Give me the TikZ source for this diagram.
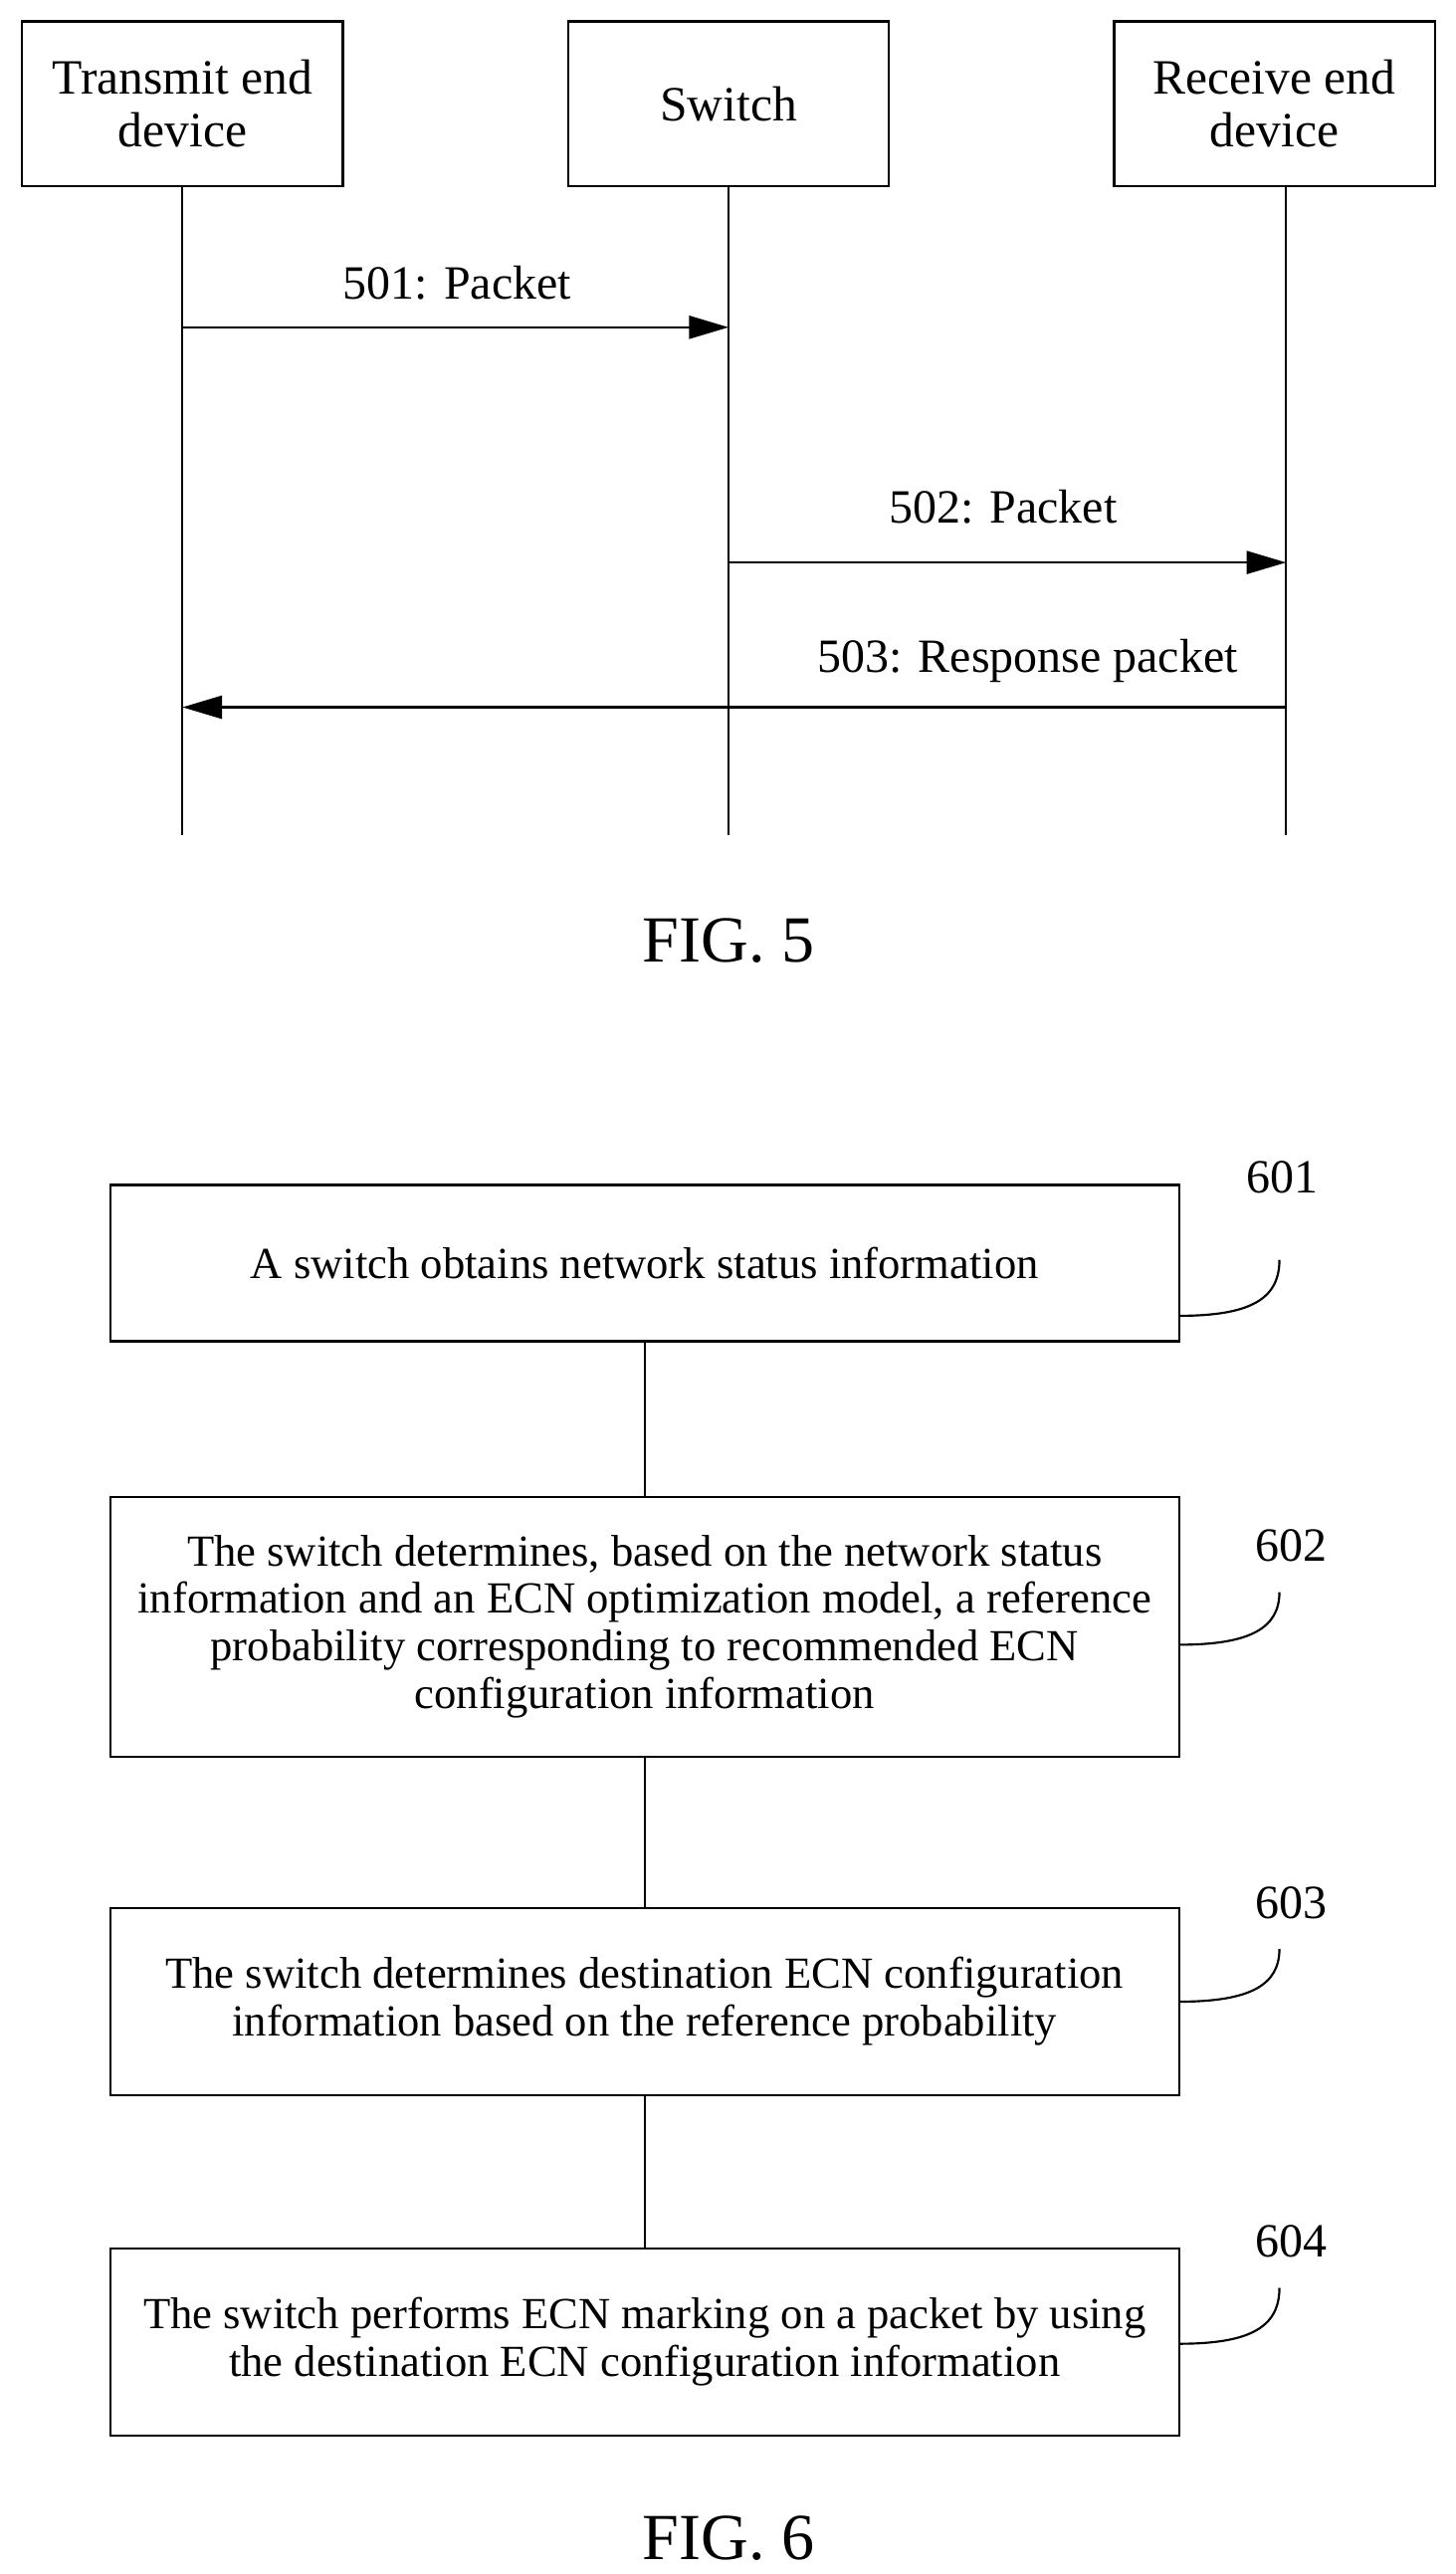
\documentclass[tikz,border=0pt]{standalone}
\usepackage{fontspec}
\setmainfont{Liberation Serif}
\usetikzlibrary{arrows.meta}
\begin{document}
\begin{tikzpicture}[x=1pt,y=-1pt,
 dev/.style={draw,line width=1.3pt,minimum width=195pt,minimum height=100pt,align=center,font=\fontsize{30}{32}\selectfont},
 stepbox/.style={draw,line width=1.3pt,minimum width=650pt,align=center,font=\fontsize{27}{29}\selectfont},
 lab/.style={font=\fontsize{29}{31}\selectfont},
 msg/.style={line width=1.3pt,-{Triangle[length=24pt,width=14pt]}},
 ln/.style={line width=1.3pt}]
\useasboundingbox (0,0) rectangle (885,1565);
\node[dev] (t) at (111,63) {Transmit end\\device};
\node[dev] (s) at (443,63) {Switch};
\node[dev] (r) at (775,63) {Receive end\\device};
\coordinate (te) at (111,508); \coordinate (se) at (443,508); \coordinate (re) at (782,508);
\draw[ln] (111,113) -- (te); \draw[ln] (443,113) -- (se); \draw[ln] (782,113) -- (re);
\coordinate (a1) at (111,199); \coordinate (b1) at (443,199);
\draw[msg] (a1) -- (b1);
\node[lab] (l1) at (278,172) {501: Packet};
\coordinate (a2) at (443,342); \coordinate (b2) at (782,342);
\draw[msg] (a2) -- (b2);
\node[lab] (l2) at (610,308) {502: Packet};
\coordinate (a3) at (782,430); \coordinate (b3) at (111,430);
\draw[msg] (a3) -- (b3);
\node[lab] (l3) at (625,402) {503: Response packet};
\node[font=\fontsize{40}{42}\selectfont] (f5) at (443,572) {FIG. 5};
\node[stepbox,minimum height=95pt] (p1) at (392,768) {A switch obtains network status information};
\node[stepbox,minimum height=158pt] (p2) at (392,989) {The switch determines, based on the network status\\information and an ECN optimization model, a reference\\probability corresponding to recommended ECN\\configuration information};
\node[stepbox,minimum height=114pt] (p3) at (392,1217) {The switch determines destination ECN configuration\\information based on the reference probability};
\node[stepbox,minimum height=114pt] (p4) at (392,1424) {The switch performs ECN marking on a packet by using\\the destination ECN configuration information};
\draw[ln] (p1) -- (p2); \draw[ln] (p2) -- (p3); \draw[ln] (p3) -- (p4);
\node[lab] (n1) at (780,716) {601};
\node[lab] (n2) at (785,940) {602};
\node[lab] (n3) at (785,1157) {603};
\node[lab] (n4) at (785,1363) {604};
\draw[ln] (717,800) .. controls (760,800) and (778,790) .. (778,766);
\draw[ln] (717,1000) .. controls (760,1000) and (778,990) .. (778,968);
\draw[ln] (717,1217) .. controls (760,1217) and (778,1207) .. (778,1185);
\draw[ln] (717,1425) .. controls (760,1425) and (778,1415) .. (778,1391);
\node[font=\fontsize{40}{42}\selectfont] (f6) at (443,1543) {FIG. 6};
\end{tikzpicture}
\end{document}
